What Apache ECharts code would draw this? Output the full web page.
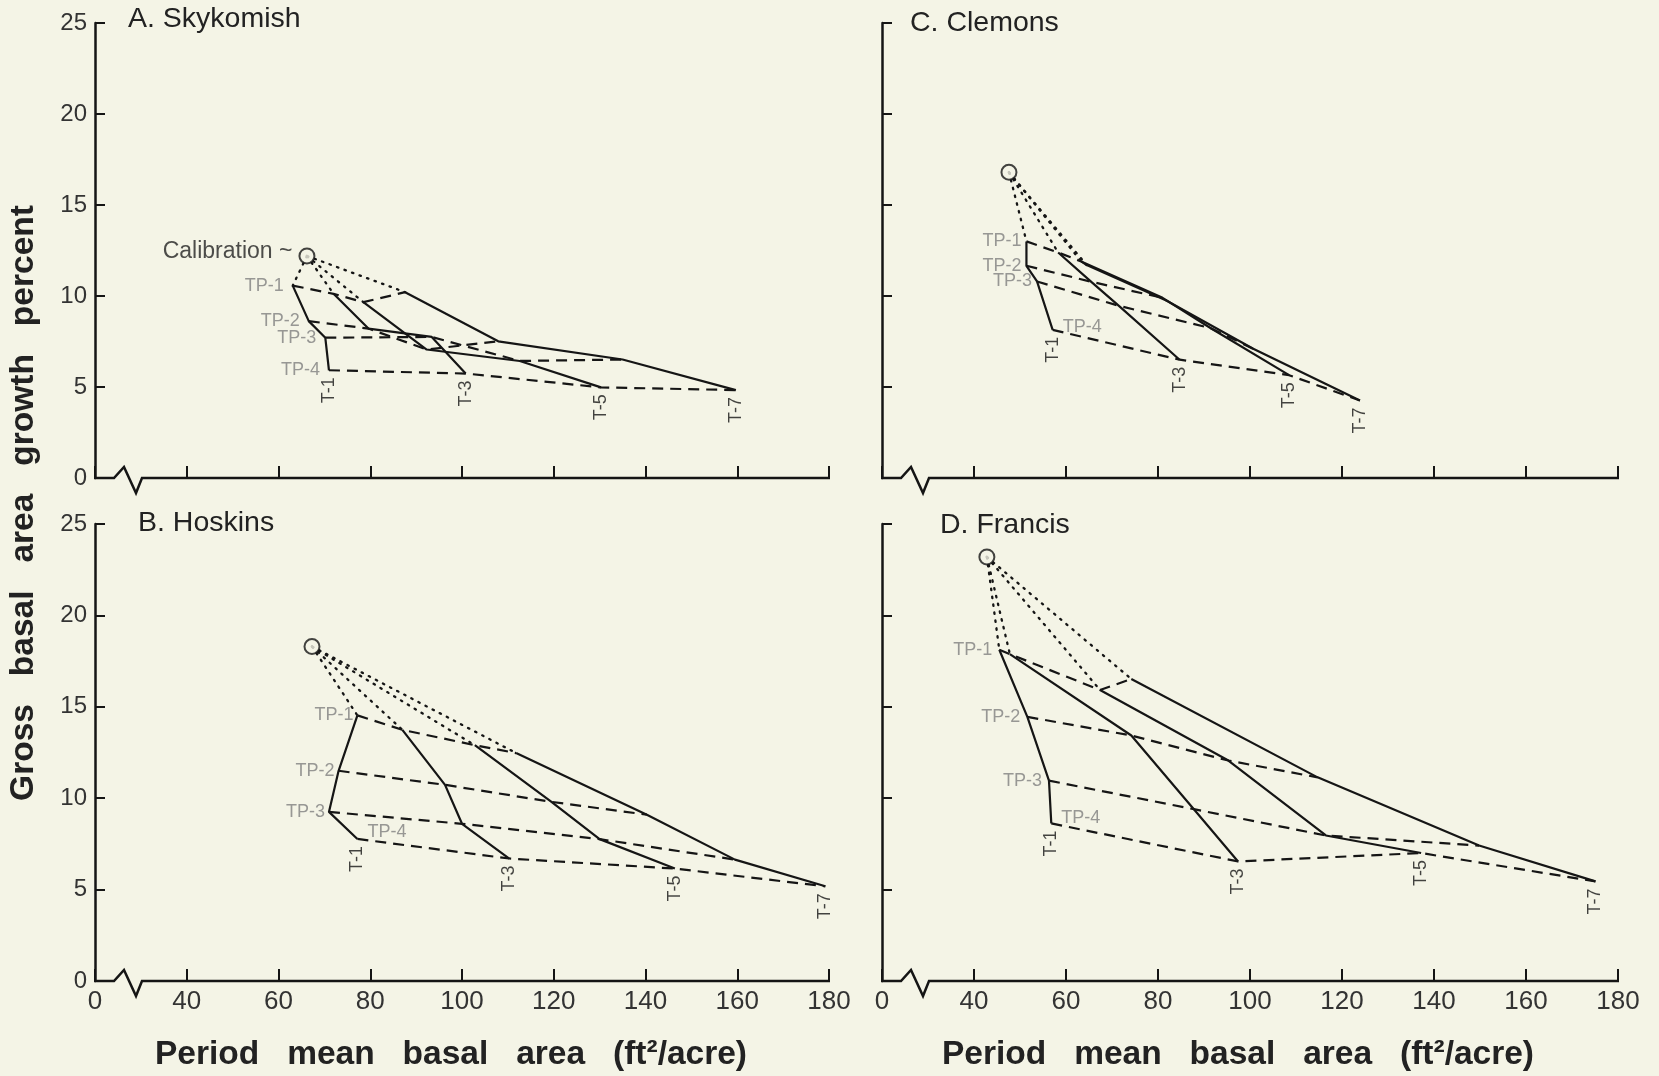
<!DOCTYPE html>
<html>
<head>
<meta charset="utf-8">
<script src="https://cdn.jsdelivr.net/npm/echarts@6/dist/echarts.min.js"></script>
<style>
html,body{margin:0;padding:0;background:#f4f4e6;}
#c{width:1659px;height:1076px;}
</style>
</head>
<body>
<div id="c"></div>
<script>
// ---------- DATA ----------
const treatments = ['T-1', 'T-3', 'T-5', 'T-7'];
const periods = ['TP-1', 'TP-2', 'TP-3', 'TP-4'];
const xTickValues = [20, 40, 60, 80, 100, 120, 140, 160, 180]; // first one shown as "0" (axis break)
const yTickValues = [0, 5, 10, 15, 20, 25];

// Each T array: [basal area, growth %] at TP-1..TP-4
// A. Skykomish
const skyCal = [66.2, 12.2];
const skyT1 = [[63.1, 10.57], [66.6, 8.62], [70.2, 7.71], [71.0, 5.92]];
const skyT3 = [[72.0, 10.12], [79.6, 8.21], [93.4, 7.75], [100.8, 5.74]];
const skyT5 = [[78.5, 9.66], [92.3, 7.06], [112.6, 6.43], [130.3, 4.98]];
const skyT7 = [[87.6, 10.21], [107.9, 7.51], [135.0, 6.51], [159.7, 4.83]];

// B. Hoskins
const hosCal = [67.3, 18.3];
const hosT1 = [[77.2, 14.53], [73.1, 11.5], [71.0, 9.25], [77.2, 7.77]];
const hosT3 = [[87.0, 13.74], [96.3, 10.73], [100.0, 8.6], [110.3, 6.7]];
const hosT5 = [[102.8, 12.9], [119.5, 9.8], [130.0, 7.76], [146.4, 6.15]];
const hosT7 = [[111.8, 12.47], [140.3, 9.1], [159.5, 6.64], [179.2, 5.18]];

// C. Clemons
const clmCal = [47.6, 16.8];
const clmT1 = [[51.4, 13.0], [51.4, 11.66], [53.7, 10.8], [57.1, 8.14]];
const clmT3 = [[58.3, 12.39], [65.5, 10.78], [71.5, 9.46], [84.7, 6.5]];
const clmT5 = [[63.3, 11.9], [81.0, 9.9], [91.4, 8.24], [108.5, 5.65]];
const clmT7 = [[64.5, 11.7], [81.8, 9.75], [100.7, 7.1], [123.9, 4.26]];

// D. Francis
const frnCal = [42.8, 23.2];
const frnT1 = [[45.5, 18.12], [51.6, 14.45], [56.3, 10.96], [56.8, 8.62]];
const frnT3 = [[47.8, 17.88], [74.2, 13.43], [87.8, 9.4], [97.4, 6.54]];
const frnT5 = [[67.4, 15.92], [95.3, 12.06], [116.5, 7.96], [137.2, 7.0]];
const frnT7 = [[74.2, 16.52], [114.7, 11.14], [149.8, 7.41], [175.1, 5.45]];

const panelTitles = ['A. Skykomish', 'B. Hoskins', 'C. Clemons', 'D. Francis'];
const xTitle = 'Period   mean   basal   area   (ft\u00B2/acre)';
const yTitle = 'Gross   basal   area   growth   percent';

// ---------- STYLE / LAYOUT ----------
const bg = '#f4f4e6';
const ink = '#151515';
const font = "'Liberation Sans', Arial, sans-serif";

const panels = [
  { cal: skyCal, T: [skyT1, skyT3, skyT5, skyT7], grid: { left: 95, top: 23, width: 734, height: 455 },
    showX: false, showY: true, tp4Right: false, tpDist: 9, titlePos: [128, 19], calLabel: true },
  { cal: hosCal, T: [hosT1, hosT3, hosT5, hosT7], grid: { left: 95, top: 524, width: 734, height: 457 },
    showX: true, showY: true, tp4Right: true, tpDist: 4, titlePos: [138, 523], tp4Off: [0, -7] },
  { cal: clmCal, T: [clmT1, clmT3, clmT5, clmT7], grid: { left: 882, top: 23, width: 736, height: 455 },
    showX: false, showY: false, tp4Right: true, tpDist: 5, titlePos: [910, 23], tp4Off: [0, -3] },
  { cal: frnCal, T: [frnT1, frnT3, frnT5, frnT7], grid: { left: 882, top: 524, width: 736, height: 457 },
    showX: true, showY: false, tp4Right: true, tpDist: 7, titlePos: [940, 525], tp4Off: [0, -5] }
];

const chart = echarts.init(document.getElementById('c'), null, { renderer: 'canvas' });

const grids = [], xAxes = [], yAxes = [], series = [];

panels.forEach((p, i) => {
  grids.push(p.grid);
  xAxes.push({
    gridIndex: i, type: 'value', min: xTickValues[0], max: xTickValues[xTickValues.length - 1], interval: 20,
    axisLine: { show: false },
    axisTick: { show: true, inside: true, length: 12, lineStyle: { color: ink, width: 2 } },
    axisLabel: { show: p.showX, fontSize: 26, color: '#333', margin: 8, fontFamily: font,
      showMinLabel: true, showMaxLabel: true,
      formatter: v => (v === xTickValues[0] ? '0' : String(v)) },
    splitLine: { show: false }
  });
  yAxes.push({
    gridIndex: i, type: 'value', min: yTickValues[0], max: yTickValues[yTickValues.length - 1], interval: 5,
    axisLine: { show: true, onZero: false, lineStyle: { color: ink, width: 2.5 } },
    axisTick: { show: true, inside: true, length: 10, lineStyle: { color: ink, width: 2 } },
    axisLabel: { show: p.showY, fontSize: 24, color: '#333', margin: 8, fontFamily: font },
    splitLine: { show: false }
  });

  const base = { xAxisIndex: i, yAxisIndex: i, silent: true, animation: false };

  // dotted: calibration -> TP-1 of each treatment
  p.T.forEach(t => {
    series.push(Object.assign({}, base, {
      type: 'line', data: [p.cal, t[0]], symbol: 'none', z: 2,
      lineStyle: { color: ink, width: 2.3, type: [1.5, 6.5], cap: 'round' }
    }));
  });
  // dashed: same period across treatments
  periods.forEach((name, k) => {
    series.push(Object.assign({}, base, {
      type: 'line', name: name, data: p.T.map(t => t[k]), symbol: 'none', z: 3,
      lineStyle: { color: ink, width: 2.2, type: [11, 7] }
    }));
  });
  // solid: each treatment through periods
  p.T.forEach((t, n) => {
    series.push(Object.assign({}, base, {
      type: 'line', name: treatments[n], data: t, symbol: 'none', z: 4,
      lineStyle: { color: ink, width: 2.2 }
    }));
  });
  // calibration circle
  series.push(Object.assign({}, base, {
    type: 'scatter', data: [p.cal], symbol: 'circle', symbolSize: 15, z: 6,
    itemStyle: { color: bg, borderColor: ink, borderWidth: 2 },
    label: p.calLabel ? { show: true, position: 'left', distance: 6, offset: [0, -4],
      formatter: 'Calibration ~', fontSize: 23, color: '#222', fontFamily: font } : { show: false }
  }));
  // period labels at T-1 points
  series.push(Object.assign({}, base, {
    type: 'scatter', symbolSize: 0, z: 7,
    data: p.T[0].map((pt, k) => {
      const right = (k === 3 && p.tp4Right);
      return {
        value: pt, name: periods[k],
        label: right ? { position: 'right', distance: 10, offset: p.tp4Off } : { position: 'left', distance: p.tpDist }
      };
    }),
    label: { show: true, formatter: '{b}', fontSize: 18, color: '#808080', fontFamily: font }
  }));
  // treatment labels under TP-4 points
  series.push(Object.assign({}, base, {
    type: 'scatter', symbolSize: 0, z: 7,
    data: p.T.map((t, n) => ({ value: t[3], name: treatments[n] })),
    label: { show: true, formatter: '{b}', position: 'bottom', distance: 7, rotate: 90,
      align: 'right', verticalAlign: 'middle', fontSize: 18, color: ink, fontFamily: font }
  }));
});

chart.setOption({
  backgroundColor: bg,
  animation: false,
  grid: grids,
  xAxis: xAxes,
  yAxis: yAxes,
  series: series
});

// ---------- decorations: broken x axis lines, titles ----------
const graphics = [];
panels.forEach((p, i) => {
  const a = chart.convertToPixel({ xAxisIndex: i, yAxisIndex: i }, [xTickValues[0], 0]);
  const b = chart.convertToPixel({ xAxisIndex: i, yAxisIndex: i }, [xTickValues[xTickValues.length - 1], 0]);
  const x0 = a[0], y0 = a[1];
  graphics.push({
    type: 'polyline', silent: true, z: 10,
    shape: { points: [[x0 - 1, y0], [x0 + 19, y0], [x0 + 29, y0 - 11], [x0 + 41, y0 + 15], [x0 + 47, y0], [b[0] + 1, y0]] },
    style: { stroke: ink, lineWidth: 2.5, fill: null, lineJoin: 'miter' }
  });
  graphics.push({
    type: 'text', silent: true, z: 10, x: p.titlePos[0], y: p.titlePos[1],
    style: { text: panelTitles[i], font: '28.5px ' + font, fill: '#222', textAlign: 'left', textVerticalAlign: 'middle' }
  });
});
graphics.push({
  type: 'text', silent: true, z: 10, x: 451, y: 1055,
  style: { text: xTitle, font: 'bold 33.5px ' + font, fill: '#222', textAlign: 'center', textVerticalAlign: 'middle' }
});
graphics.push({
  type: 'text', silent: true, z: 10, x: 1238, y: 1055,
  style: { text: xTitle, font: 'bold 33.5px ' + font, fill: '#222', textAlign: 'center', textVerticalAlign: 'middle' }
});
graphics.push({
  type: 'text', silent: true, z: 10, x: 24, y: 503, rotation: Math.PI / 2,
  style: { text: yTitle, font: 'bold 33.5px ' + font, fill: '#222', textAlign: 'center', textVerticalAlign: 'middle' }
});
chart.setOption({ graphic: graphics });
</script>
</body>
</html>
